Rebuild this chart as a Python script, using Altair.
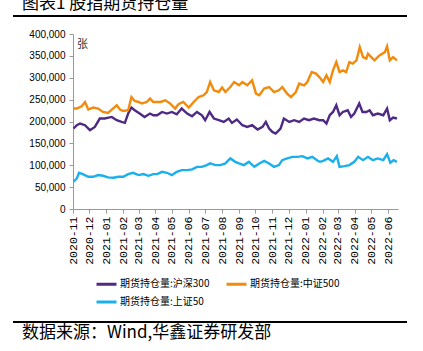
import altair as alt
import pandas as pd

# ---- data (values in contracts) ----
hs300_dates = ["2020-11-02","2020-11-08","2020-11-14","2020-11-23","2020-12-02","2020-12-11","2020-12-20","2020-12-29",
"2021-01-11","2021-01-20","2021-01-29","2021-02-04","2021-02-10","2021-02-16","2021-02-22","2021-03-03","2021-03-12",
"2021-03-22","2021-03-28","2021-04-04","2021-04-13","2021-04-22","2021-05-01","2021-05-10","2021-05-19","2021-05-29",
"2021-06-07","2021-06-16","2021-06-25","2021-07-01","2021-07-09","2021-07-17","2021-07-26","2021-08-04","2021-08-13",
"2021-08-19","2021-08-28","2021-09-07","2021-09-16","2021-09-25","2021-10-05","2021-10-14","2021-10-20","2021-10-26",
"2021-11-01","2021-11-07","2021-11-16","2021-11-22","2021-12-02","2021-12-11","2021-12-20","2021-12-29","2022-01-07",
"2022-01-16","2022-01-26","2022-02-02","2022-02-08","2022-02-14","2022-02-20","2022-02-26","2022-03-04","2022-03-10",
"2022-03-19","2022-03-25","2022-03-31","2022-04-09","2022-04-15","2022-04-22","2022-04-28","2022-05-04","2022-05-13",
"2022-05-23","2022-05-30","2022-06-04","2022-06-10","2022-06-17"]
hs300_values = [184.0,191.5,195.4,191.5,180.1,187.6,206.8,206.8,
210.4,202.9,199.0,196.8,218.2,231.9,225.7,218.2,210.4,
218.2,214.3,214.3,221.8,218.2,221.8,216.6,229.6,218.2,
212.0,221.8,214.3,202.9,221.8,206.8,202.9,199.0,206.8,
196.8,204.5,191.5,187.6,191.5,181.7,187.6,199.0,184.0,
176.2,172.6,184.0,206.8,199.0,202.9,199.0,206.8,202.9,
206.8,202.9,202.9,195.4,214.3,221.8,237.1,214.3,221.8,
225.7,210.4,218.2,241.0,221.8,221.8,225.7,214.3,218.2,
214.3,229.6,202.9,209.1,206.8]

zz500_dates = ["2020-11-02","2020-11-08","2020-11-17","2020-11-23","2020-11-29","2020-12-08","2020-12-17","2020-12-26",
"2021-01-04","2021-01-11","2021-01-20","2021-01-26","2021-02-01","2021-02-10","2021-02-16","2021-02-22","2021-03-01",
"2021-03-07","2021-03-16","2021-03-22","2021-03-28","2021-04-04","2021-04-10","2021-04-19","2021-04-28","2021-05-07",
"2021-05-13","2021-05-22","2021-06-01","2021-06-10","2021-06-19","2021-06-28","2021-07-04","2021-07-10","2021-07-17",
"2021-07-26","2021-08-01","2021-08-07","2021-08-16","2021-08-23","2021-09-01","2021-09-07","2021-09-16","2021-09-25",
"2021-10-02","2021-10-08","2021-10-17","2021-10-26","2021-11-04","2021-11-13","2021-11-19","2021-11-28","2021-12-05",
"2021-12-14","2021-12-20","2021-12-29","2022-01-04","2022-01-12","2022-01-20","2022-01-26","2022-02-02","2022-02-08",
"2022-02-14","2022-02-20","2022-02-26","2022-03-04","2022-03-10","2022-03-16","2022-03-22","2022-03-28","2022-04-04",
"2022-04-10","2022-04-16","2022-04-22","2022-04-25","2022-05-01","2022-05-07","2022-05-16","2022-05-26","2022-05-30",
"2022-06-04","2022-06-10","2022-06-17"]
zz500_values = [229.6,229.6,234.8,244.6,227.3,231.9,229.6,221.8,
219.6,227.3,237.1,227.3,224.1,225.7,256.0,246.9,244.6,
241.0,244.6,252.4,244.6,244.6,244.6,248.5,241.0,229.6,
239.4,244.6,231.9,244.6,256.0,259.9,267.4,290.2,271.3,
267.4,277.5,267.4,278.8,290.2,282.7,290.2,282.7,294.1,
263.8,259.9,275.2,278.8,267.4,271.3,278.8,263.8,256.0,
267.4,286.6,282.7,290.2,313.0,309.4,301.6,290.2,305.5,
290.2,316.9,335.8,313.0,316.9,313.0,335.8,332.2,339.7,
370.0,347.2,343.6,355.0,347.2,339.7,351.1,358.6,371.6,
339.7,347.2,339.7]

sz50_dates = ["2020-11-02","2020-11-08","2020-11-12","2020-11-19","2020-11-29","2020-12-08","2020-12-17","2020-12-26",
"2021-01-04","2021-01-14","2021-01-23","2021-02-01","2021-02-10","2021-02-19","2021-03-01","2021-03-10","2021-03-19",
"2021-03-28","2021-04-04","2021-04-13","2021-04-22","2021-05-01","2021-05-10","2021-05-19","2021-05-29","2021-06-07",
"2021-06-16","2021-06-25","2021-07-04","2021-07-10","2021-07-20","2021-07-29","2021-08-07","2021-08-16","2021-08-25",
"2021-09-01","2021-09-10","2021-09-19","2021-09-29","2021-10-08","2021-10-17","2021-10-26","2021-11-04","2021-11-13",
"2021-11-19","2021-11-28","2021-12-08","2021-12-17","2021-12-26","2022-01-04","2022-01-13","2022-01-23","2022-01-27",
"2022-02-02","2022-02-11","2022-02-20","2022-02-27","2022-03-04","2022-03-13","2022-03-22","2022-03-31","2022-04-07",
"2022-04-16","2022-04-25","2022-05-04","2022-05-13","2022-05-23","2022-05-30","2022-06-05","2022-06-11","2022-06-17"]
sz50_values = [62.2,70.0,82.8,79.8,73.6,73.6,77.5,75.9,
72.3,71.4,73.6,73.6,79.8,82.8,77.5,79.8,75.9,
79.8,79.8,85.0,82.8,77.5,85.0,88.9,88.9,90.5,
96.4,96.4,100.3,104.2,100.3,100.3,104.2,115.6,107.8,
104.2,100.3,107.8,96.4,104.2,110.1,104.2,96.4,100.3,
111.7,115.6,119.2,119.2,120.8,115.6,119.2,110.1,107.8,
110.1,115.6,107.8,120.8,96.4,98.0,100.3,107.8,119.2,
111.7,119.2,111.7,115.6,111.7,125.4,105.6,111.7,107.8]

series_names = ["期货持仓量:沪深300", "期货持仓量:中证500", "期货持仓量:上证50"]
series_colors = ["#4e2a84", "#f28a0c", "#19b0ec"]

tick_labels = ["2020-11","2020-12","2021-01","2021-02","2021-03","2021-04","2021-05","2021-06","2021-07","2021-08",
               "2021-09","2021-10","2021-11","2021-12","2022-01","2022-02","2022-03","2022-04","2022-05","2022-06"]
y_ticks = [0, 50000, 100000, 150000, 200000, 250000, 300000, 350000, 400000]

title_text = "图表1 股指期货持仓量"
source_text = "数据来源：Wind,华鑫证券研发部"
unit_text = "张"

# ---- build long table ----
rows = []
for name, ds, vs in zip(series_names, [hs300_dates, zz500_dates, sz50_dates],
                        [hs300_values, zz500_values, sz50_values]):
    for d, v in zip(ds, vs):
        rows.append({"date": d, "value": v * 1000, "series": name})
df = pd.DataFrame(rows)

CJK = "Noto Sans CJK SC"

tick_vals = [alt.DateTime(year=int(t[:4]), month=int(t[5:]), date=1, utc=True) for t in tick_labels]

x_enc = alt.X("date:T",
              scale=alt.Scale(type="utc",
                              domain=[alt.DateTime(year=2020, month=11, date=1, utc=True),
                                      alt.DateTime(year=2022, month=6, date=19, utc=True)]),
              axis=alt.Axis(values=tick_vals, labelExpr="utcFormat(datum.value, '%Y-%m')",
                            labelAngle=270, labelAlign="right", labelBaseline="middle",
                            labelFont="Liberation Mono", labelFontSize=11.5, labelColor="#000", labelPadding=3,
                            labelOverlap=False, labelFlush=False,
                            tickSize=4, tickColor="#999", domainColor="#999", grid=False, title=None))
y_enc = alt.Y("value:Q",
              scale=alt.Scale(domain=[0, 400000], nice=False),
              axis=alt.Axis(values=y_ticks, format=",.0f", labelFont="Liberation Sans", labelFontSize=10,
                            labelColor="#000", labelPadding=4, tickSize=4, tickColor="#999",
                            labelFlush=False, domainColor="#999", grid=False, title=None))

lines = alt.Chart(df).mark_line(strokeWidth=2.4, clip=False).encode(
    x=x_enc, y=y_enc,
    color=alt.Color("series:N",
                    scale=alt.Scale(domain=series_names, range=series_colors),
                    sort=series_names,
                    legend=alt.Legend(orient="none", legendX=22, legendY=238.5, columns=2,
                                      direction="horizontal", title=None,
                                      symbolType="stroke", symbolStrokeWidth=3, symbolSize=400,
                                      labelFont=CJK, labelFontSize=10, labelColor="#000",
                                      labelLimit=0, columnPadding=10, rowPadding=0, labelOffset=2)),
    order=alt.Order("series:N")
)

one = pd.DataFrame({"k": [0]})

title_mark = alt.Chart(one).mark_text(font=CJK, fontSize=17, align="left", baseline="middle",
                                      color="#000").encode(
    x=alt.value(-51), y=alt.value(-30), text=alt.value(title_text))
source_mark = alt.Chart(one).mark_text(font=CJK, fontSize=17, align="left", baseline="middle",
                                       color="#000").encode(
    x=alt.value(-51), y=alt.value(299), text=alt.value(source_text))
unit_mark = alt.Chart(one).mark_text(font=CJK, fontSize=11, align="left", baseline="middle",
                                     color="#333").encode(
    x=alt.value(4), y=alt.value(11), text=alt.value(unit_text))
top_rule = alt.Chart(one).mark_rule(color="#000", strokeWidth=2).encode(
    x=alt.value(-60), x2=alt.value(334), y=alt.value(-18))
bottom_rule = alt.Chart(one).mark_rule(color="#000", strokeWidth=2).encode(
    x=alt.value(-60), x2=alt.value(334), y=alt.value(288))

chart = alt.layer(lines, title_mark, source_mark, unit_mark, top_rule, bottom_rule).properties(
    width=325, height=175,
    autosize=alt.AutoSizeParams(type="none"),
    padding={"left": 73, "top": 34, "right": 25, "bottom": 142},
    background="white"
).configure_view(stroke=None)

chart.save("out.html", embed_options={"renderer": "svg", "actions": False})
